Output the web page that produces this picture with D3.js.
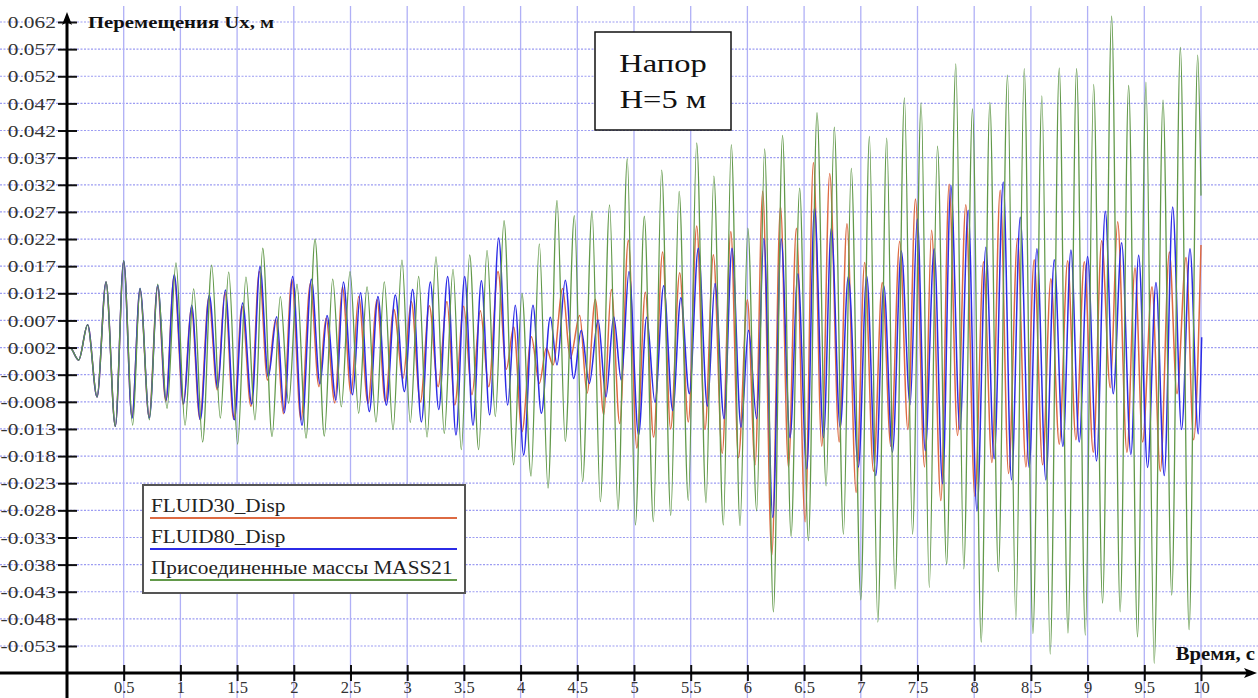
<!DOCTYPE html>
<html>
<head>
<meta charset="utf-8">
<script src="https://cdn.jsdelivr.net/npm/d3@7"></script>
<style>
  body { margin: 0; background: #fff; }
  svg { display: block; }
</style>
</head>
<body>
<svg id="chart" width="1258" height="698"></svg>
<script>
// extrema: [time, s ; displacement, m]
const fluid30 = [
  [0, 0.002], [0.025, 0.002], [0.103, -0.0003], [0.182, 0.0062], [0.265, -0.0071], [0.344, 0.0141], [0.426, -0.0125], [0.5, 0.0178],
  [0.573, -0.0108], [0.644, 0.0127], [0.724, -0.0108], [0.798, 0.0131], [0.871, -0.0079], [0.944, 0.015], [1.026, -0.0085], [1.096, 0.0094],
  [1.172, -0.0112], [1.25, 0.0112], [1.325, -0.0058], [1.392, 0.0122], [1.47, -0.0112], [1.543, 0.0096], [1.622, -0.0088], [1.696, 0.016],
  [1.768, -0.004], [1.84, 0.0072], [1.908, -0.0102], [1.982, 0.0145], [2.063, -0.0113], [2.146, 0.0138], [2.222, -0.0052], [2.284, 0.0074],
  [2.362, -0.0082], [2.428, 0.0132], [2.505, -0.0065], [2.572, 0.0114], [2.654, -0.0083], [2.734, 0.0108], [2.807, -0.008], [2.881, 0.0091],
  [2.963, -0.0037], [3.036, 0.0105], [3.116, -0.008], [3.195, 0.0097], [3.272, -0.0052], [3.351, 0.0105], [3.419, -0.0086], [3.498, 0.0096],
  [3.571, -0.0067], [3.645, 0.0088], [3.719, -0.0052], [3.801, 0.016], [3.874, -0.002], [3.939, 0.0058], [4.012, -0.0135], [4.095, 0.004],
  [4.165, -0.0046], [4.227, 0.0019], [4.286, -0.0012], [4.371, 0.0129], [4.438, 0.0], [4.521, 0.0079], [4.586, -0.0064], [4.659, 0.0109],
  [4.733, -0.0104], [4.8, 0.0127], [4.874, -0.012], [4.95, 0.0218], [5.025, -0.0165], [5.1, 0.0122], [5.173, -0.0145], [5.252, 0.0196],
  [5.323, -0.013], [5.403, 0.0158], [5.479, -0.0117], [5.553, 0.0244], [5.626, -0.0131], [5.7, 0.0191], [5.778, -0.0175], [5.854, 0.0234],
  [5.921, -0.0183], [6.0, 0.0108], [6.068, -0.0196], [6.135, 0.0308], [6.215, -0.0363], [6.292, 0.028], [6.362, -0.02], [6.432, 0.024],
  [6.509, -0.0301], [6.582, 0.0361], [6.656, -0.0162], [6.726, 0.0341], [6.809, -0.0154], [6.878, 0.0248], [6.959, -0.0247], [7.034, 0.0177],
  [7.112, -0.0208], [7.189, 0.014], [7.265, -0.0162], [7.343, 0.0216], [7.415, -0.0131], [7.482, 0.0294], [7.562, -0.02], [7.624, 0.0236],
  [7.706, -0.0262], [7.779, 0.0321], [7.853, -0.0142], [7.926, 0.0283], [8.006, -0.0254], [8.082, 0.0178], [8.156, -0.0192], [8.229, 0.031],
  [8.303, -0.0212], [8.382, 0.0221], [8.456, -0.02], [8.529, 0.0182], [8.603, -0.0196], [8.676, 0.0147], [8.75, -0.0158], [8.824, 0.018],
  [8.897, -0.015], [8.971, 0.0178], [9.05, -0.0173], [9.124, 0.0217], [9.2, -0.0054], [9.265, 0.0252], [9.347, -0.0173], [9.418, 0.0167],
  [9.485, -0.0154], [9.568, 0.0132], [9.641, -0.0208], [9.721, 0.0196], [9.788, -0.0065], [9.868, 0.0186], [9.935, -0.015], [10.0, 0.0209]
];

const fluid80 = [
  [0, 0.002], [0.025, 0.002], [0.103, -0.0003], [0.182, 0.0062], [0.265, -0.0071], [0.344, 0.0141], [0.426, -0.0125], [0.5, 0.018],
  [0.573, -0.011], [0.644, 0.0129], [0.726, -0.011], [0.8, 0.0135], [0.873, -0.0077], [0.946, 0.0154], [1.029, -0.0083], [1.099, 0.0098],
  [1.176, -0.0113], [1.255, 0.0117], [1.329, -0.0055], [1.396, 0.0126], [1.476, -0.0113], [1.549, 0.0102], [1.629, -0.0084], [1.702, 0.0169],
  [1.775, -0.0034], [1.849, 0.0077], [1.916, -0.01], [1.99, 0.0151], [2.072, -0.0123], [2.155, 0.0146], [2.231, -0.0047], [2.293, 0.0079],
  [2.372, -0.0077], [2.437, 0.0141], [2.519, -0.0067], [2.587, 0.0121], [2.666, -0.0098], [2.742, 0.0114], [2.816, -0.0086], [2.895, 0.0117],
  [2.975, -0.0061], [3.048, 0.0127], [3.125, -0.0117], [3.204, 0.0141], [3.278, -0.0094], [3.357, 0.0151], [3.43, -0.0141], [3.507, 0.0151],
  [3.58, -0.0123], [3.654, 0.0143], [3.727, -0.0104], [3.807, 0.0222], [3.886, -0.0086], [3.953, 0.0098], [4.027, -0.0178], [4.109, 0.0098],
  [4.183, -0.0101], [4.262, 0.0076], [4.321, -0.0012], [4.394, 0.0144], [4.468, -0.0037], [4.535, 0.0052], [4.606, -0.0046], [4.683, 0.0071],
  [4.753, -0.0071], [4.821, 0.0077], [4.888, -0.004], [4.956, 0.016], [5.04, -0.0141], [5.112, 0.0076], [5.185, -0.0081], [5.262, 0.0134],
  [5.341, -0.0096], [5.413, 0.0112], [5.488, -0.0065], [5.567, 0.0203], [5.647, -0.0088], [5.714, 0.0138], [5.794, -0.0111], [5.864, 0.0203],
  [5.944, -0.0127], [6.01, 0.0052], [6.082, -0.0111], [6.145, 0.0221], [6.224, -0.0293], [6.298, 0.022], [6.376, -0.0146], [6.445, 0.0156],
  [6.524, -0.0204], [6.592, 0.0278], [6.671, -0.0146], [6.74, 0.024], [6.818, -0.0127], [6.89, 0.0151], [6.979, -0.02], [7.052, 0.0152],
  [7.132, -0.0216], [7.203, 0.0134], [7.279, -0.0173], [7.357, 0.0198], [7.435, -0.0085], [7.498, 0.0257], [7.568, -0.017], [7.647, 0.0202],
  [7.721, -0.0231], [7.794, 0.0319], [7.874, -0.0131], [7.947, 0.0273], [8.024, -0.0281], [8.103, 0.0205], [8.176, -0.0185], [8.256, 0.0325],
  [8.329, -0.0224], [8.406, 0.026], [8.485, -0.0201], [8.553, 0.0202], [8.632, -0.0224], [8.706, 0.0182], [8.782, -0.0162], [8.853, 0.02],
  [8.926, -0.0154], [9.0, 0.0188], [9.079, -0.0189], [9.156, 0.0271], [9.226, -0.0065], [9.3, 0.0213], [9.382, -0.0177], [9.45, 0.019],
  [9.529, -0.0201], [9.603, 0.014], [9.676, -0.0216], [9.75, 0.0279], [9.829, -0.0131], [9.903, 0.0202], [9.976, -0.0139], [10.006, 0.0039]
];

const mass21 = [
  [0, 0.002], [0.025, 0.002], [0.103, -0.0003], [0.182, 0.0062], [0.265, -0.0071], [0.344, 0.0141], [0.426, -0.0125], [0.5, 0.018],
  [0.579, -0.0123], [0.644, 0.0129], [0.726, -0.0113], [0.8, 0.0137], [0.882, -0.0092], [0.961, 0.0176], [1.041, -0.0123], [1.117, 0.0128],
  [1.196, -0.0154], [1.276, 0.0172], [1.352, -0.011], [1.426, 0.0159], [1.505, -0.0158], [1.578, 0.015], [1.658, -0.0113], [1.726, 0.0203],
  [1.808, -0.0144], [1.881, 0.0114], [1.955, -0.0083], [2.028, 0.0137], [2.108, -0.0147], [2.187, 0.022], [2.269, -0.0143], [2.343, 0.0146],
  [2.419, -0.0089], [2.496, 0.016], [2.572, -0.0101], [2.646, 0.0132], [2.725, -0.0117], [2.798, 0.0141], [2.875, -0.0131], [2.954, 0.0181],
  [3.027, -0.0118], [3.101, 0.0151], [3.175, -0.0145], [3.254, 0.0187], [3.327, -0.0138], [3.404, 0.0164], [3.477, -0.0168], [3.551, 0.0191],
  [3.63, -0.0168], [3.704, 0.0199], [3.777, -0.0107], [3.854, 0.0254], [3.939, -0.0196], [4.012, 0.012], [4.092, -0.0217], [4.165, 0.0211],
  [4.242, -0.0239], [4.321, 0.0291], [4.394, -0.0153], [4.474, 0.0263], [4.547, -0.0227], [4.63, 0.0272], [4.703, -0.0264], [4.785, 0.0283],
  [4.859, -0.0279], [4.941, 0.0368], [5.012, -0.0307], [5.091, 0.0262], [5.171, -0.0301], [5.244, 0.0347], [5.324, -0.0289], [5.398, 0.0308],
  [5.479, -0.0262], [5.553, 0.0397], [5.635, -0.0266], [5.704, 0.0336], [5.788, -0.0307], [5.858, 0.0394], [5.935, -0.0308], [6.004, 0.024],
  [6.082, -0.0281], [6.152, 0.0386], [6.229, -0.0467], [6.31, 0.0411], [6.385, -0.0328], [6.461, 0.0314], [6.538, -0.0336], [6.614, 0.0453],
  [6.694, -0.0235], [6.766, 0.0426], [6.847, -0.0324], [6.916, 0.035], [7.0, -0.0445], [7.076, 0.0409], [7.15, -0.0486], [7.229, 0.0406],
  [7.302, -0.0425], [7.385, 0.048], [7.456, -0.0324], [7.532, 0.0471], [7.604, -0.0422], [7.676, 0.0391], [7.757, -0.038], [7.838, 0.0543],
  [7.908, -0.0388], [7.985, 0.046], [8.062, -0.0523], [8.138, 0.0472], [8.213, -0.0393], [8.294, 0.0522], [8.367, -0.0481], [8.441, 0.0534],
  [8.518, -0.0507], [8.597, 0.0484], [8.67, -0.0545], [8.75, 0.0535], [8.827, -0.0506], [8.903, 0.0534], [8.98, -0.051], [9.053, 0.0505],
  [9.132, -0.0451], [9.212, 0.0631], [9.287, -0.0467], [9.362, 0.0503], [9.44, -0.0513], [9.515, 0.0509], [9.587, -0.0562], [9.665, 0.0476],
  [9.742, -0.0436], [9.818, 0.0573], [9.895, -0.05], [9.971, 0.0559], [10.0, 0.03]
];

const yTicks = [0.062, 0.057, 0.052, 0.047, 0.042, 0.037, 0.032, 0.027, 0.022, 0.017, 0.012, 0.007, 0.002,
  -0.003, -0.008, -0.013, -0.018, -0.023, -0.028, -0.033, -0.038, -0.043, -0.048, -0.053];
const xTicks = [0.5, 1, 1.5, 2, 2.5, 3, 3.5, 4, 4.5, 5, 5.5, 6, 6.5, 7, 7.5, 8, 8.5, 9, 9.5, 10];

const series = [
  {name: "FLUID30_Disp", data: fluid30, color: "#dd6a42", width: 1.5},
  {name: "FLUID80_Disp", data: fluid80, color: "#2b2be6", width: 1.5},
  {name: "Присоединенные массы MASS21", data: mass21, color: "#62994a", width: 1.3}
];

const FONT = "'Liberation Serif', 'Times New Roman', Times, serif";
const W = 1258, H = 698;
const svg = d3.select("#chart").attr("font-family", FONT);
const x = d3.scaleLinear().domain([0, 10]).range([67, 1201]);
const y = d3.scaleLinear().domain([-0.053, 0.062]).range([646, 22]);
const axisY = 673;  // where the time axis crosses
const sx = 1.28;    // the picture is stretched sideways, text too

svg.append("rect").attr("width", W).attr("height", H).attr("fill", "#fff");

// grid
svg.append("g").selectAll("line").data(yTicks).join("line")
  .attr("x1", 0).attr("x2", W)
  .attr("y1", d => y(d)).attr("y2", d => y(d))
  .attr("stroke", "#9c9cf2").attr("stroke-width", 1.2)
  .attr("stroke-dasharray", "2,1.5");
svg.append("g").selectAll("line").data(xTicks).join("line")
  .attr("x1", d => x(d)).attr("x2", d => x(d))
  .attr("y1", 6).attr("y2", H)
  .attr("stroke", "#b0b0f6").attr("stroke-width", 1.3);

// curves
const line = d3.line()
  .x(d => x(d[0]))
  .y(d => y(d[1]))
  .curve(d3.curveMonotoneX);

svg.append("g").selectAll("path").data(series).join("path")
  .attr("fill", "none")
  .attr("stroke", d => d.color)
  .attr("stroke-width", d => d.width)
  .attr("stroke-linejoin", "round")
  .attr("d", d => line(d.data));

// axes
const gy = svg.append("g")
  .attr("transform", `translate(77,0)`)
  .call(d3.axisLeft(y).tickValues(yTicks).tickSize(19).tickPadding(4)
    .tickFormat(d => d.toFixed(3)));
gy.attr("font-family", FONT);
gy.select(".domain").remove();
gy.selectAll(".tick line").attr("stroke", "#111").attr("stroke-width", 2);
gy.selectAll(".tick text")
  .attr("x", 0).attr("dy", "0.34em")
  .attr("transform", `translate(-21,0) scale(1.3,1)`)
  .attr("font-size", 16.5).attr("fill", "#333");

const gx = svg.append("g")
  .attr("transform", `translate(0,${axisY - 8})`)
  .call(d3.axisBottom(x).tickValues(xTicks).tickSize(16).tickPadding(0)
    .tickFormat(d => String(d)));
gx.attr("font-family", FONT);
gx.select(".domain").remove();
gx.selectAll(".tick line").attr("stroke", "#111").attr("stroke-width", 2);
gx.selectAll(".tick text")
  .attr("font-size", 16.5).attr("fill", "#333");

// axis lines with arrows
svg.append("line").attr("x1", 0).attr("x2", W - 8)
  .attr("y1", axisY).attr("y2", axisY)
  .attr("stroke", "#000").attr("stroke-width", 3);
svg.append("path")
  .attr("d", `M${W - 1},${axisY} L${W - 14},${axisY - 5} L${W - 11},${axisY} L${W - 14},${axisY + 5} Z`)
  .attr("fill", "#000");
svg.append("line").attr("x1", 67).attr("x2", 67)
  .attr("y1", 20).attr("y2", H)
  .attr("stroke", "#000").attr("stroke-width", 3);
svg.append("path")
  .attr("d", `M67,12 L62,25 L67,22 L72,25 Z`)
  .attr("fill", "#000");

function label(txt, px, py, opts) {
  return svg.append("text")
    .attr("transform", `translate(${px},${py}) scale(${opts.sx || sx},1)`)
    .attr("font-size", opts.size)
    .attr("font-weight", opts.bold ? "bold" : "normal")
    .attr("text-anchor", opts.anchor || "start")
    .attr("fill", opts.color || "#111")
    .text(txt);
}

label("Перемещения Ux, м", 88, 28, {size: 17, bold: true, sx: 1.22});
label("Время, с", 1255, 660, {size: 18, bold: true, anchor: "end", sx: 1.15});

// pressure box
svg.append("rect").attr("x", 595).attr("y", 32).attr("width", 136).attr("height", 98)
  .attr("fill", "#fff").attr("stroke", "#111").attr("stroke-width", 1.5);
label("Напор", 663, 72, {size: 26, anchor: "middle", sx: 1.25});
label("H=5 м", 663, 108, {size: 26, anchor: "middle", sx: 1.25});

// legend
svg.append("rect").attr("x", 143).attr("y", 485).attr("width", 322).attr("height", 108)
  .attr("fill", "#fff").attr("stroke", "#555").attr("stroke-width", 2);
const lg = svg.append("g");
series.forEach((s, i) => {
  const base = 512 + i * 31;
  label(s.name, 151, base, {size: 18, sx: 1.18, color: "#222"});
  lg.append("line").attr("x1", 150).attr("x2", 457)
    .attr("y1", base + 6).attr("y2", base + 6)
    .attr("stroke", s.color).attr("stroke-width", 2);
});
</script>
</body>
</html>
